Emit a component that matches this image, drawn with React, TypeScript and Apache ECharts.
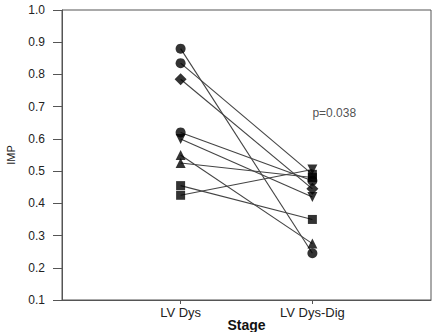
import React, { useEffect, useRef } from "react";
import * as echarts from "echarts";

// Stage categories (x positions 1 and 2 on the value axis)
const stages = ["LV Dys", "LV Dys-Dig"];
const stagePositions = [1, 2];

// Paired IMP values per subject
const impLvDys = [0.88, 0.835, 0.785, 0.62, 0.6, 0.55, 0.525, 0.455, 0.425];
const impLvDysDig = [0.245, 0.49, 0.445, 0.47, 0.42, 0.275, 0.48, 0.35, 0.505];

// Marker shapes per subject at each stage
const markersLvDys = ["circle", "circle", "diamond", "circle", "down", "triangle", "triangle", "rect", "rect"];
const markersLvDysDig = ["circle", "rect", "diamond", "circle", "down", "triangle", "rect", "rect", "down"];

// Y axis ticks
const yMin = 0.1;
const yMax = 1.0;
const yStep = 0.1;

// Significance note
const pValueText = "p=0.038";
const pValueAt = [2, 0.68];

const FONT = "'Liberation Sans', Arial, Helvetica, sans-serif";

function markerItem(x: number, y: number, m: string) {
  if (m === "down") {
    return { value: [x, y], symbol: "triangle", symbolRotate: 180, symbolSize: 10 };
  }
  if (m === "diamond") {
    return { value: [x, y], symbol: "diamond", symbolSize: 12 };
  }
  if (m === "rect") {
    return { value: [x, y], symbol: "rect", symbolSize: 9 };
  }
  return { value: [x, y], symbol: m, symbolSize: 10 };
}

export default function App() {
  const ref = useRef<HTMLDivElement>(null);

  useEffect(() => {
    if (!ref.current) return;
    const chart = echarts.init(ref.current, null, { renderer: "svg" });

    const pairLines = impLvDys.map((v, i) => ({
      type: "line",
      data: [
        [stagePositions[0], v],
        [stagePositions[1], impLvDysDig[i]],
      ],
      showSymbol: false,
      symbol: "none",
      lineStyle: { color: "#444", width: 1.1 },
      z: 2,
      silent: true,
    }));

    const markerSeries = [
      {
        type: "scatter",
        data: impLvDys.map((v, i) => markerItem(stagePositions[0], v, markersLvDys[i])),
        itemStyle: { color: "#000" },
        z: 5,
      },
      {
        type: "scatter",
        data: impLvDysDig.map((v, i) => markerItem(stagePositions[1], v, markersLvDysDig[i])),
        itemStyle: { color: "#000" },
        z: 5,
      },
    ];

    const noteSeries = {
      type: "scatter",
      data: [{ value: pValueAt }],
      symbolSize: 0,
      silent: true,
      label: {
        show: true,
        position: "right",
        distance: 0,
        formatter: pValueText,
        color: "#222",
        fontSize: 12,
        fontFamily: FONT,
      },
      z: 6,
    };

    chart.setOption({
      animation: false,
      backgroundColor: "#fff",
      grid: {
        left: 62,
        right: 5,
        top: 10,
        bottom: 32,
        containLabel: false,
        outerBoundsMode: "none",
        show: true,
        borderColor: "#555",
        borderWidth: 1,
        backgroundColor: "transparent",
      },
      xAxis: {
        type: "value",
        min: 0.1,
        max: 2.9,
        name: "Stage",
        nameLocation: "middle",
        nameGap: 18,
        nameMoveOverlap: false,
        nameTextStyle: { fontFamily: FONT, fontSize: 14, fontWeight: "bold", color: "#111" },
        axisLine: { show: true, lineStyle: { color: "#555", width: 1 } },
        axisTick: { show: true, length: 4, customValues: stagePositions, lineStyle: { color: "#555" } },
        axisLabel: {
          customValues: stagePositions,
          formatter: (v: number) => stages[Math.round(v) - 1] ?? "",
          margin: 6,
          fontFamily: FONT,
          fontSize: 13,
          color: "#222",
        },
        splitLine: { show: false },
      },
      yAxis: {
        type: "value",
        min: yMin,
        max: yMax,
        interval: yStep,
        name: "IMP",
        nameLocation: "middle",
        nameGap: 46,
        nameMoveOverlap: false,
        nameTextStyle: { fontFamily: FONT, fontSize: 11, color: "#222" },
        axisLine: { show: true, lineStyle: { color: "#555", width: 1 } },
        axisTick: { show: true, length: 9, lineStyle: { color: "#555" } },
        axisLabel: {
          formatter: (v: number) => v.toFixed(1),
          margin: 17,
          fontFamily: FONT,
          fontSize: 12,
          color: "#222",
        },
        splitLine: { show: false },
      },
      series: [...pairLines, ...markerSeries, noteSeries],
    });

    return () => chart.dispose();
  }, []);

  return (
    <div
      ref={ref}
      style={{ position: "fixed", left: 0, top: 0, width: 436, height: 332, background: "#fff" }}
    />
  );
}
